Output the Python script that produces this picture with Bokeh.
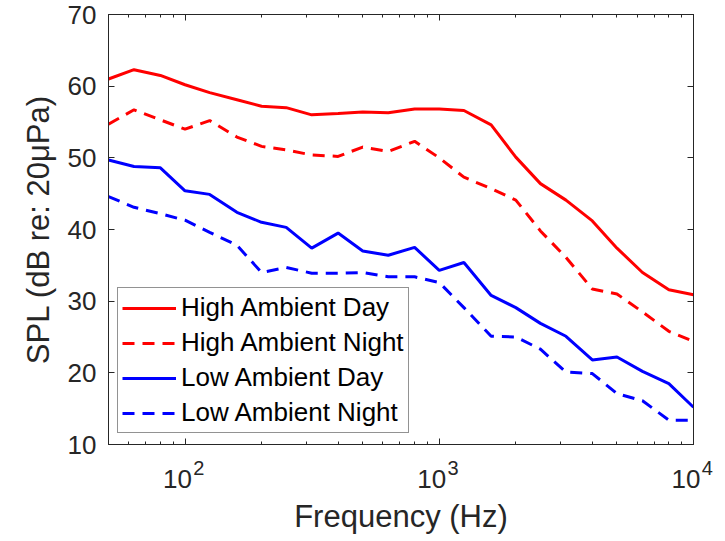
from bokeh.plotting import figure
from bokeh.models import (Legend, LegendItem, LinearAxis, LogAxis, FixedTicker,
                          ColumnDataSource, CustomJSTickFormatter)
from bokeh.embed import file_html
from bokeh.resources import INLINE

# ---- data (third-octave band centre frequencies, Hz) ----
freq = [50, 63, 80, 100, 125, 160, 200, 250, 315, 400, 500, 630, 800,
        1000, 1250, 1600, 2000, 2500, 3150, 4000, 5000, 6300, 8000, 10000]

high_day = [61.0, 62.3, 61.5, 60.2, 59.1, 58.1, 57.2, 57.0, 56.0, 56.2, 56.4, 56.3,
            56.8, 56.8, 56.6, 54.6, 50.1, 46.4, 44.1, 41.2, 37.4, 34.0, 31.6, 30.9]
high_night = [54.7, 56.7, 55.3, 54.0, 55.2, 52.9, 51.6, 51.1, 50.4, 50.2, 51.5, 50.9,
              52.3, 50.0, 47.3, 45.7, 44.1, 39.8, 36.1, 31.7, 31.0, 28.5, 25.8, 24.4]
low_day = [49.7, 48.8, 48.6, 45.4, 44.9, 42.4, 41.0, 40.3, 37.4, 39.5, 37.0, 36.4,
           37.5, 34.3, 35.4, 30.8, 29.1, 26.9, 25.1, 21.8, 22.2, 20.2, 18.5, 15.2]
low_night = [44.6, 43.1, 42.2, 41.3, 39.6, 37.8, 34.0, 34.7, 33.9, 33.9, 34.0, 33.4,
             33.4, 32.6, 29.1, 25.1, 25.0, 23.3, 20.1, 19.9, 17.1, 16.1, 13.4, 13.4]

series_names = ["High Ambient Day", "High Ambient Night",
                "Low Ambient Day", "Low Ambient Night"]
series_values = [high_day, high_night, low_day, low_night]
series_colors = ["#ff0000", "#ff0000", "#0000ff", "#0000ff"]
series_dash = ["solid", "12 8", "solid", "12 8"]

x_major = [100, 1000, 10000]
x_minor = [60, 70, 80, 90] + [k * 100 for k in range(2, 10)] + [k * 1000 for k in range(2, 10)]
y_ticks = [10, 20, 30, 40, 50, 60, 70]

# layout constant: horizontal placement of "10" left of each decade tick
BASE_SHIFT = 0.934

FONT = "Liberation Sans"
AX = "#262626"

p = figure(width=725, height=541,
           x_axis_type="log", x_range=(50, 10000), y_range=(10, 70),
           output_backend="svg", toolbar_location=None,
           min_border_left=108, min_border_right=32,
           min_border_top=14, min_border_bottom=97,
           background_fill_color="white", border_fill_color="white")

p.xgrid.visible = False
p.ygrid.visible = False
p.outline_line_color = AX
p.outline_line_width = 1

renderers = []
for name, vals, col, dash in zip(series_names, series_values, series_colors, series_dash):
    src = ColumnDataSource(dict(x=freq, y=vals))
    r = p.line("x", "y", source=src, line_color=col, line_width=3, line_dash=dash)
    renderers.append((name, r))

def style_axis(ax, show_labels=True):
    ax.axis_line_color = AX
    ax.axis_line_width = 1
    ax.major_tick_line_color = AX
    ax.minor_tick_line_color = AX
    ax.major_tick_in = 6
    ax.major_tick_out = 0
    ax.minor_tick_in = 3
    ax.minor_tick_out = 0
    ax.major_label_text_color = AX
    ax.major_label_text_font = FONT
    ax.axis_label_text_font = FONT
    ax.axis_label_text_font_style = "normal"
    ax.axis_label_text_color = AX
    if not show_labels:
        ax.major_label_text_font_size = "1px"
        ax.major_label_text_alpha = 0
        ax.major_label_standoff = 0

def label_only_axis(ax):
    ax.axis_line_color = None
    ax.major_tick_line_color = None
    ax.minor_tick_line_color = None
    ax.major_tick_in = 0
    ax.major_tick_out = 0
    ax.minor_tick_in = 0
    ax.minor_tick_out = 0
    ax.major_label_text_color = AX
    ax.major_label_text_font = FONT
    ax.axis_label_text_font = FONT
    ax.axis_label_text_font_style = "normal"
    ax.axis_label_text_color = AX

# bottom x axis: ticks only
xa = p.xaxis[0]
xa.ticker = FixedTicker(ticks=x_major, minor_ticks=x_minor)
style_axis(xa, show_labels=False)

# exponent row of the decade labels (raised, pushed right of the tick by no-break spaces)
exp_axis = LogAxis(ticker=FixedTicker(ticks=x_major),
                   formatter=CustomJSTickFormatter(
                       code="return '\\u00a0\\u00a0\\u00a0\\u00a0\\u00a0' + String(Math.round(Math.log10(tick)));"))
label_only_axis(exp_axis)
exp_axis.major_label_text_font_size = "20px"
exp_axis.major_label_standoff = 12
p.add_layout(exp_axis, "below")

# base "10" row of the decade labels + axis title
base_axis = LogAxis(ticker=FixedTicker(ticks=[t * BASE_SHIFT for t in x_major]),
                    formatter=CustomJSTickFormatter(code="return '10';"))
label_only_axis(base_axis)
base_axis.major_label_text_font_size = "26px"
base_axis.major_label_standoff = -12
base_axis.axis_label = "Frequency (Hz)"
base_axis.axis_label_text_font_size = "31px"
base_axis.axis_label_standoff = 8
p.add_layout(base_axis, "below")

# left y axis
ya = p.yaxis[0]
ya.ticker = FixedTicker(ticks=y_ticks)
style_axis(ya)
ya.major_label_text_font_size = "26px"
ya.major_label_standoff = 12
ya.axis_label = "SPL (dB re: 20\u03bcPa)"
ya.axis_label_text_font_size = "31px"
ya.axis_label_standoff = 9

# box axes (top / right) with ticks only
top = LogAxis(ticker=FixedTicker(ticks=x_major, minor_ticks=x_minor))
style_axis(top, show_labels=False)
p.add_layout(top, "above")
right = LinearAxis(ticker=FixedTicker(ticks=y_ticks))
style_axis(right, show_labels=False)
p.add_layout(right, "right")

legend = Legend(items=[LegendItem(label=n, renderers=[r]) for n, r in renderers],
                location=(9, 11))
legend.label_text_font = FONT
legend.label_text_font_size = "26px"
legend.label_text_color = "black"
legend.glyph_width = 54
legend.glyph_height = 30
legend.label_height = 30
legend.spacing = 4
legend.padding = 4
legend.margin = 0
legend.label_standoff = 5
legend.border_line_color = AX
legend.border_line_width = 1
legend.background_fill_color = "white"
legend.background_fill_alpha = 1.0
p.add_layout(legend, "center")

open("out.html", "w").write(file_html(p, INLINE))
